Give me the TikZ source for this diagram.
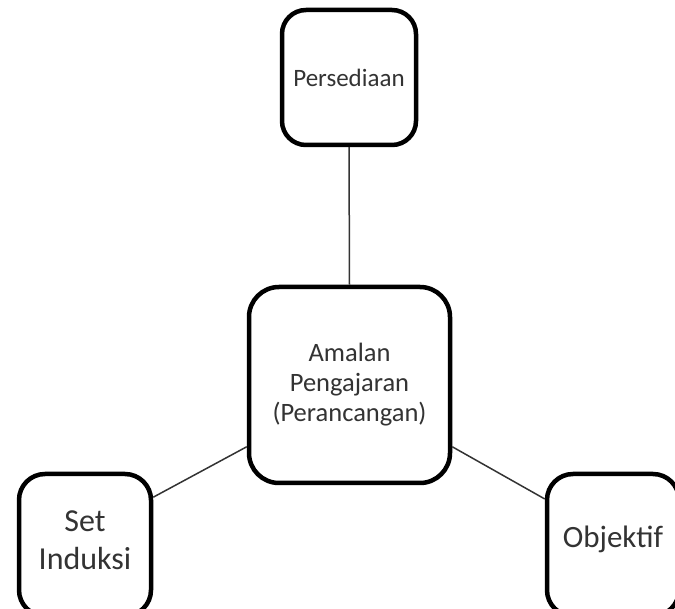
\documentclass[tikz,border=0pt]{standalone}
\usepackage{fontspec}
\setmainfont{Carlito}
\begin{document}
\begin{tikzpicture}[x=1pt,y=-1pt,
    box/.style={rectangle, rounded corners=#1, draw, line width=4.5pt, fill=white, text=black!80, align=center, inner sep=0pt, anchor=center},
    link/.style={draw=black!80, line width=1.5pt}]
  \useasboundingbox (0,0) rectangle (675,609);

  \node[box=24pt, minimum width=134pt, minimum height=135pt, font=\fontsize{25}{28}\selectfont] (persediaan) at (349,77.5) {Persediaan};

  \node[box=30pt, minimum width=201pt, minimum height=196pt, font=\fontsize{26.5}{30}\selectfont] (amalan) at (349.5,385) {Amalan\\Pengajaran\\(Perancangan)};

  \node[box=26pt, minimum width=132pt, minimum height=142pt, font=\fontsize{32}{38}\selectfont] (induksi) at (85,545) {Set\\Induksi\vphantom{g}\\[-28pt]};

  \node[box=26pt, minimum width=132pt, minimum height=142pt, font=\fontsize{31}{37}\selectfont, text depth=16pt] (objektif) at (613,545) {Objektif};

  \draw[link] (persediaan.south) -- (amalan.north);
  \draw[link] (induksi.35) -- (amalan.211);
  \draw[link] (objektif.146) -- (amalan.329);
\end{tikzpicture}
\end{document}
